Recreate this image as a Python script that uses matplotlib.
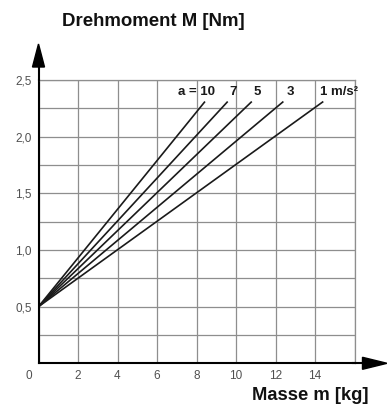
import matplotlib
matplotlib.use('Agg')
import matplotlib.pyplot as plt
import numpy as np
import matplotlib.transforms as mtransforms
from matplotlib.patches import Polygon
from matplotlib.lines import Line2D

plt.rcParams['font.family'] = ['Liberation Sans', 'DejaVu Sans']

# ---- data ----
accel_labels = ['a = 10', '7', '5', '3', '1 m/s²']
start_mass = 0.0
start_torque = 0.5
end_mass = [8.43, 9.58, 10.8, 12.4, 14.42]
end_torque = [2.31, 2.31, 2.31, 2.31, 2.31]
x_ticks = [0, 2, 4, 6, 8, 10, 12, 14, 16]
x_tick_labels = ['', '2', '4', '6', '8', '10', '12', '14', '']
y_ticks = [0, 0.25, 0.5, 0.75, 1.0, 1.25, 1.5, 1.75, 2.0, 2.25, 2.5]
y_tick_labels = ['', '', '0,5', '', '1,0', '', '1,5', '', '2,0', '', '2,5']
# label anchor positions (data coords)
label_x = [7.99, 9.85, 11.06, 12.73, 14.25]
label_y = 2.395

W, H = 387, 405
fig = plt.figure(figsize=(W / 100, H / 100), dpi=100)
x0p, x1p = 38.5, 354.5
y0p, y1p = 363.3, 80.0
ax = fig.add_axes([x0p / W, 1 - y0p / H, (x1p - x0p) / W, (y0p - y1p) / H])
ax.set_xlim(0, 16)
ax.set_ylim(0, 2.5)

gridc = '#8e8e8e'
ax.set_xticks(x_ticks)
ax.set_xticklabels(x_tick_labels)
ax.set_yticks(y_ticks)
ax.set_yticklabels(y_tick_labels)
ax.tick_params(length=0, labelsize=8.5, labelcolor='#505050')
ax.tick_params(axis='x', pad=4.5)
ax.tick_params(axis='y', pad=4.7)
ax.grid(True, color=gridc, linewidth=0.9)
ax.set_axisbelow(True)
for s in ['top', 'right']:
    ax.spines[s].set_color(gridc)
    ax.spines[s].set_linewidth(0.9)
for s in ['left', 'bottom']:
    ax.spines[s].set_color('black')
    ax.spines[s].set_linewidth(1.5)

for xe, ye in zip(end_mass, end_torque):
    ax.plot([start_mass, xe], [start_torque, ye], color='#1a1a1a', lw=1.2,
            solid_capstyle='butt')

for i, (lab, lx) in enumerate(zip(accel_labels, label_x)):
    ha = 'left' if i == len(accel_labels) - 1 else 'center'
    ax.text(lx, label_y, lab, ha=ha, va='center', fontsize=9.5,
            fontweight='bold', color='#1a1a1a')

zero = ax.text(0, 0, '0', fontsize=8.5, color='#505050', ha='center', va='top')
zero.set_transform(ax.transData + mtransforms.ScaledTranslation(-10 / 100, -6.5 / 100, fig.dpi_scale_trans))

# arrows (figure pixel coords -> fraction)
def fp(x, y):
    return (x / W, 1 - y / H)

# y arrow
fig.add_artist(Line2D(*zip(fp(x0p, y1p), fp(x0p, 66)), color='black', lw=1.5,
                      transform=fig.transFigure))
fig.add_artist(Polygon([fp(x0p - 6, 67), fp(x0p + 6, 67), fp(x0p, 44)],
                       closed=True, color='black', transform=fig.transFigure))
# x arrow
fig.add_artist(Line2D(*zip(fp(x1p - 2, y0p), fp(364, y0p)), color='black', lw=1.5,
                      transform=fig.transFigure))
fig.add_artist(Polygon([fp(362.5, y0p - 6), fp(362.5, y0p + 6), fp(387, y0p)],
                       closed=True, color='black', transform=fig.transFigure))

fig.text(62 / W, 1 - 22 / H, 'Drehmoment M [Nm]', fontsize=13.4, fontweight='bold',
         ha='left', va='center', color='#111111')
fig.text(368 / W, 1 - 395 / H, 'Masse m [kg]', fontsize=13.2, fontweight='bold',
         ha='right', va='center', color='#111111')

fig.savefig('out.png', dpi=100)
